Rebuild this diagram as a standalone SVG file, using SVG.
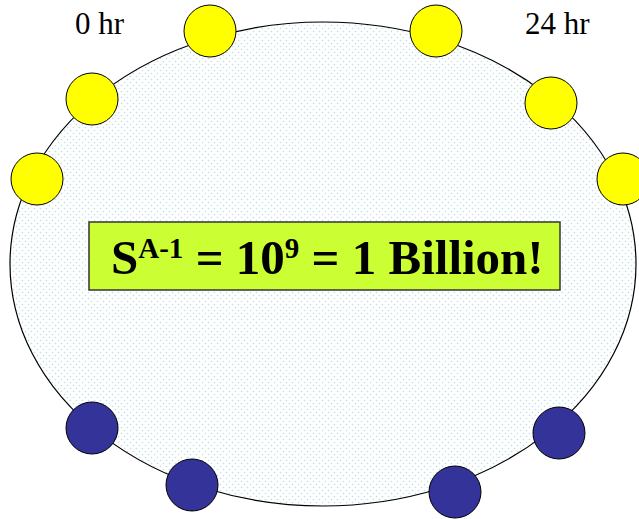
<svg xmlns="http://www.w3.org/2000/svg" width="639" height="519" viewBox="0 0 639 519">
<defs>
<pattern id="dots" width="6" height="6" patternUnits="userSpaceOnUse">
<rect width="6" height="6" fill="#ffffff"/>
<circle cx="1.5" cy="1.5" r="0.8" fill="#b8e0e6"/>
<circle cx="4.5" cy="4.5" r="0.8" fill="#b8e0e6"/>
</pattern>
<style>
.y{fill:#ffff00;stroke:#000;stroke-width:1}
.b{fill:#333399;stroke:#000;stroke-width:1}
.lbl{font-family:"Liberation Serif","Times New Roman",serif;font-size:31px;fill:#000}
.eq{font-family:"Liberation Serif","Times New Roman",serif;font-weight:bold;font-size:49px;fill:#000}
</style>
</defs>
<rect width="639" height="519" fill="#ffffff"/>
<g id="ring">
<ellipse cx="323" cy="264" rx="313" ry="242" fill="url(#dots)" stroke="#000" stroke-width="1.2"/>
</g>
<g id="connectors"></g>
<g id="y1"><circle class="y" cx="210" cy="31" r="26"/></g>
<g id="y2"><circle class="y" cx="92" cy="99" r="26"/></g>
<g id="y3"><circle class="y" cx="37" cy="179" r="26"/></g>
<g id="y4"><circle class="y" cx="436" cy="31" r="26"/></g>
<g id="y5"><circle class="y" cx="551" cy="103" r="26"/></g>
<g id="y6"><circle class="y" cx="623" cy="179" r="26"/></g>
<g id="b1"><circle class="b" cx="92" cy="428" r="26"/></g>
<g id="b2"><circle class="b" cx="192" cy="485" r="26"/></g>
<g id="b3"><circle class="b" cx="559" cy="433" r="26"/></g>
<g id="b4"><circle class="b" cx="455" cy="492" r="26"/></g>
<g id="label-0hr"><text class="lbl" x="75" y="34">0 hr</text></g>
<g id="label-24hr"><text class="lbl" x="525" y="34">24 hr</text></g>
<g id="equation">
<rect x="89" y="222" width="471" height="68" fill="#ccff33" stroke="#333333" stroke-width="1.5"/>
<text class="eq" x="111" y="274">S<tspan font-size="29" dy="-16">A-1</tspan><tspan dy="16"> = 10</tspan><tspan font-size="29" dy="-16">9</tspan><tspan dy="16"> = 1 Billion!</tspan></text>
</g>
</svg>
